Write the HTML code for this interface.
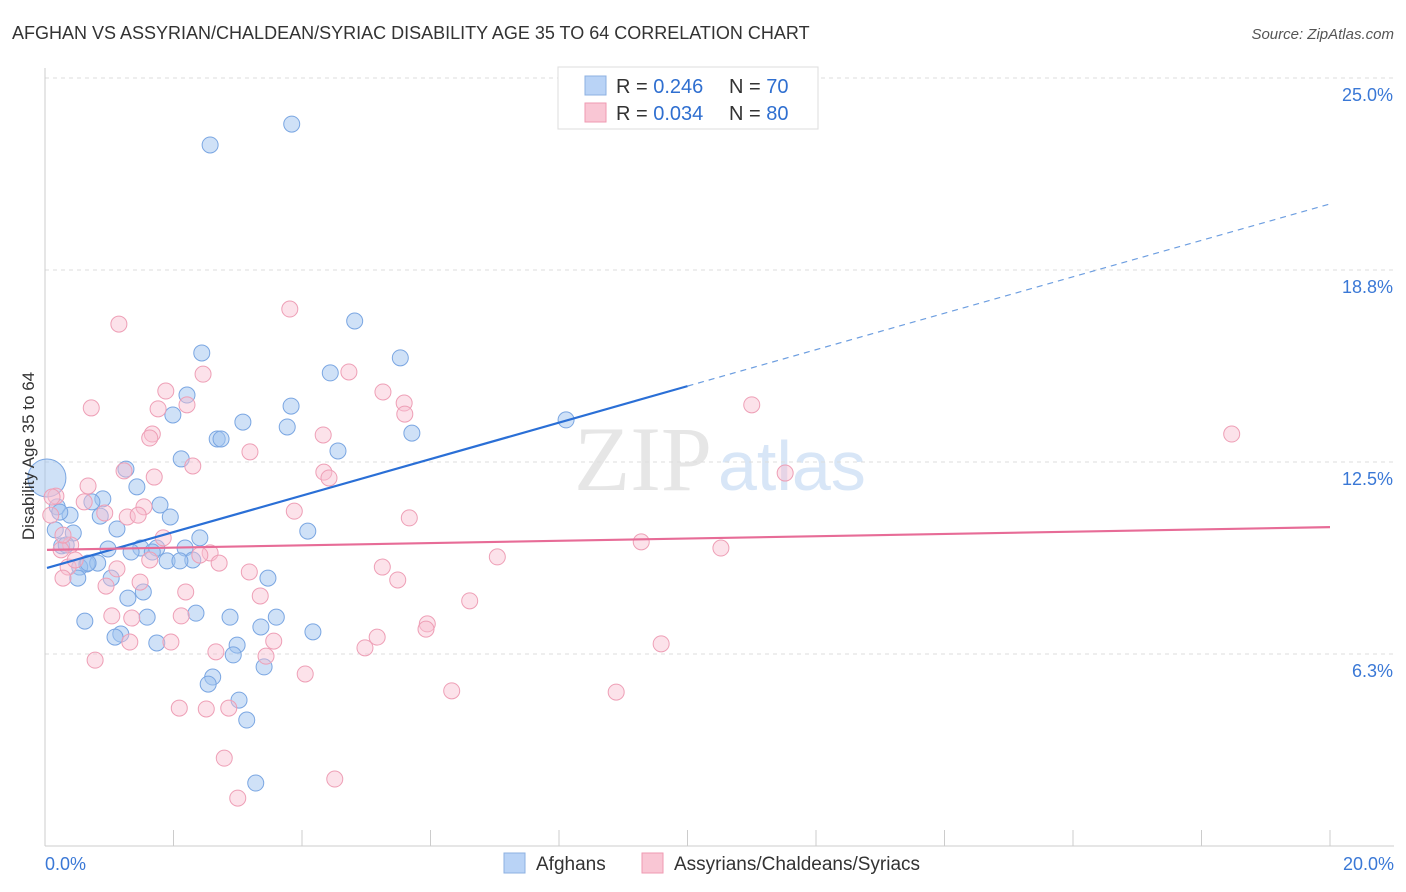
<!DOCTYPE html>
<html><head><meta charset="utf-8">
<style>
body{margin:0;background:#fff;font-family:"Liberation Sans",sans-serif;}
svg{display:block}
</style></head>
<body>
<svg id="chart" width="1406" height="892">
<text x="12" y="39" font-size="18" fill="#333">AFGHAN VS ASSYRIAN/CHALDEAN/SYRIAC DISABILITY AGE 35 TO 64 CORRELATION CHART</text>
<text x="1394" y="39" font-size="15" fill="#555" font-style="italic" text-anchor="end">Source: ZipAtlas.com</text>
<text x="712" y="490" font-size="92" fill="#e6e6e6" text-anchor="end" font-family="Liberation Serif">ZIP</text>
<text x="718" y="490" font-size="70" fill="#d8e6f7">atlas</text>
<g id="grid"></g>
<g id="axes"></g>
<g id="pts"></g>
<g id="lines"></g>
<text transform="translate(34,456) rotate(-90)" font-size="17" fill="#333" text-anchor="middle">Disability Age 35 to 64</text>
<g>
<rect x="558" y="67" width="260" height="62" fill="#fff" stroke="#ddd"/>
<rect x="585" y="76" width="21" height="19" fill="#b9d3f6" stroke="#8db0e2"/>
<rect x="585" y="103" width="21" height="19" fill="#f9c6d4" stroke="#ef9ab2"/>
<text x="616" y="93" font-size="20" fill="#333">R = <tspan fill="#2f6fd0">0.246</tspan><tspan x="729">N = </tspan><tspan fill="#2f6fd0">70</tspan></text>
<text x="616" y="120" font-size="20" fill="#333">R = <tspan fill="#2f6fd0">0.034</tspan><tspan x="729">N = </tspan><tspan fill="#2f6fd0">80</tspan></text>
</g>
<g>
<rect x="504" y="853" width="21" height="20" fill="#b9d3f6" stroke="#8db0e2"/>
<text x="536" y="870" font-size="19" fill="#333">Afghans</text>
<rect x="642" y="853" width="21" height="20" fill="#f9c6d4" stroke="#ef9ab2"/>
<text x="674" y="870" font-size="19" fill="#333">Assyrians/Chaldeans/Syriacs</text>
</g>
</svg>
<script>
const yTicks=[25,18.75,12.5,6.25];
const yTickLabels=["25.0%","18.8%","12.5%","6.3%"];
const xTickVals=[0,2,4,6,8,10,12,14,16,18,20];
const blueX=[3.84,2.57,4.82,2.44,5.53,4.44,2.21,3.83,1.99,3.08,3.77,5.71,2.68,2.74,4.56,8.11,2.12,1.26,1.43,0.90,0.73,1.79,0.19,0.39,0.86,1.95,1.12,0.16,0.44,4.09,2.41,0.26,0.98,1.49,1.74,1.34,1.67,2.18,2.30,1.90,2.10,0.65,0.82,0.54,0.51,1.03,3.47,1.53,1.29,2.35,1.59,2.88,3.60,0.62,3.36,1.18,1.09,4.17,1.74,2.99,2.93,3.41,2.61,2.54,3.02,3.14,3.28,0.33,0.67,0.23];
const blueY=[23.50,22.82,17.09,16.05,15.89,15.40,14.68,14.32,14.03,13.80,13.64,13.44,13.25,13.25,12.86,13.87,12.60,12.27,11.69,11.30,11.20,11.10,11.04,10.77,10.74,10.71,10.32,10.29,10.19,10.25,10.03,9.77,9.67,9.70,9.70,9.57,9.57,9.70,9.31,9.28,9.28,9.18,9.21,9.08,8.72,8.72,8.72,8.27,8.07,7.58,7.45,7.45,7.45,7.32,7.13,6.90,6.80,6.97,6.61,6.54,6.22,5.83,5.50,5.27,4.75,4.10,2.05,9.80,9.21,10.87];
const pinkX=[3.81,1.15,4.73,2.46,1.88,5.26,5.59,0.72,1.76,2.21,5.60,1.67,1.63,4.33,3.19,2.30,4.34,1.70,1.23,4.42,11.52,18.47,11.00,0.67,0.17,0.61,1.54,0.93,1.28,1.45,3.88,5.67,0.09,1.84,0.40,0.25,7.04,9.28,10.52,2.57,2.71,5.25,0.36,1.12,3.18,5.49,1.48,0.28,0.95,2.19,3.35,6.61,1.04,1.35,2.12,5.95,5.93,5.17,1.96,1.32,3.56,9.59,4.98,2.66,3.44,0.78,4.05,6.33,8.89,2.09,2.51,2.86,2.79,4.51,3.00,0.11,0.28,0.47,2.41,1.63];
const pinkY=[17.48,16.99,15.43,15.36,14.81,14.78,14.42,14.26,14.23,14.36,14.06,13.41,13.28,13.38,12.83,12.37,12.17,12.01,12.21,11.98,12.14,13.41,14.36,11.72,11.39,11.20,11.04,10.84,10.71,10.77,10.90,10.68,10.77,10.03,9.80,9.64,9.41,9.90,9.70,9.54,9.21,9.08,9.08,9.02,8.92,8.66,8.59,8.72,8.46,8.27,8.14,7.98,7.49,7.42,7.49,7.23,7.06,6.80,6.64,6.64,6.67,6.58,6.45,6.32,6.18,6.05,5.60,5.05,5.01,4.49,4.46,4.49,2.86,2.18,1.56,11.36,10.12,9.31,9.47,9.31];
const bigBlue=[0.03,11.98];
const blueTrend=[9.05,14.97,20.9];
const pinkTrend=[9.64,10.38];

const NS="http://www.w3.org/2000/svg";
const X=v=>45+v*64.25, Y=v=>846-v*30.72;
function mk(tag,attrs,parent){const e=document.createElementNS(NS,tag);for(const k in attrs)e.setAttribute(k,attrs[k]);document.getElementById(parent).appendChild(e);return e;}
yTicks.forEach((t,i)=>{
 const l=mk('line',{x1:45,x2:1394,y1:Y(t),y2:Y(t),stroke:'#ddd','stroke-dasharray':'4,4'},'grid');
 
 
 const tx=mk('text',{x:1393,y:Y(t)+23,'font-size':18,fill:'#3a78d6','text-anchor':'end'},'grid');
 tx.textContent=yTickLabels[i];
 
 
});
let ax=mk('line',{x1:45,x2:45,y1:68,y2:846,stroke:'#ccc'},'axes');


ax=mk('line',{x1:45,x2:1394,y1:846,y2:846,stroke:'#ccc'},'axes');


xTickVals.forEach(v=>{
 const t=mk('line',{x1:X(v),x2:X(v),y1:830,y2:846,stroke:'#ccc'},'axes');
 
 
});
let xl=mk('text',{x:45,y:870,'font-size':18,fill:'#3a78d6'},'axes');xl.textContent='0.0%';


xl=mk('text',{x:1394,y:870,'font-size':18,fill:'#3a78d6','text-anchor':'end'},'axes');xl.textContent='20.0%';


blueX.forEach((x,i)=>{
 const c=mk('circle',{cx:X(x),cy:Y(blueY[i]),r:8,fill:'rgba(160,196,240,0.5)',stroke:'#7aa6e2','stroke-width':1},'pts');
 
 
});
const bb=mk('circle',{cx:X(bigBlue[0]),cy:Y(bigBlue[1]),r:19,fill:'rgba(160,196,240,0.5)',stroke:'#7aa6e2'},'pts');


pinkX.forEach((x,i)=>{
 const c=mk('circle',{cx:X(x),cy:Y(pinkY[i]),r:8,fill:'rgba(248,190,208,0.45)',stroke:'#ee9fb6','stroke-width':1},'pts');
 
 
});
let tl=mk('line',{x1:X(0)+2,y1:Y(blueTrend[0]),x2:X(10),y2:Y(blueTrend[1]),stroke:'#2a6fd6','stroke-width':2.2},'lines');


tl=mk('line',{x1:X(10),y1:Y(blueTrend[1]),x2:X(20),y2:Y(blueTrend[2]),stroke:'#6d9ee0','stroke-width':1.2,'stroke-dasharray':'6,5'},'lines');


tl=mk('line',{x1:X(0)+2,y1:Y(pinkTrend[0]),x2:X(20),y2:Y(pinkTrend[1]),stroke:'#e76c97','stroke-width':2.2},'lines');


</script>
</body></html>
